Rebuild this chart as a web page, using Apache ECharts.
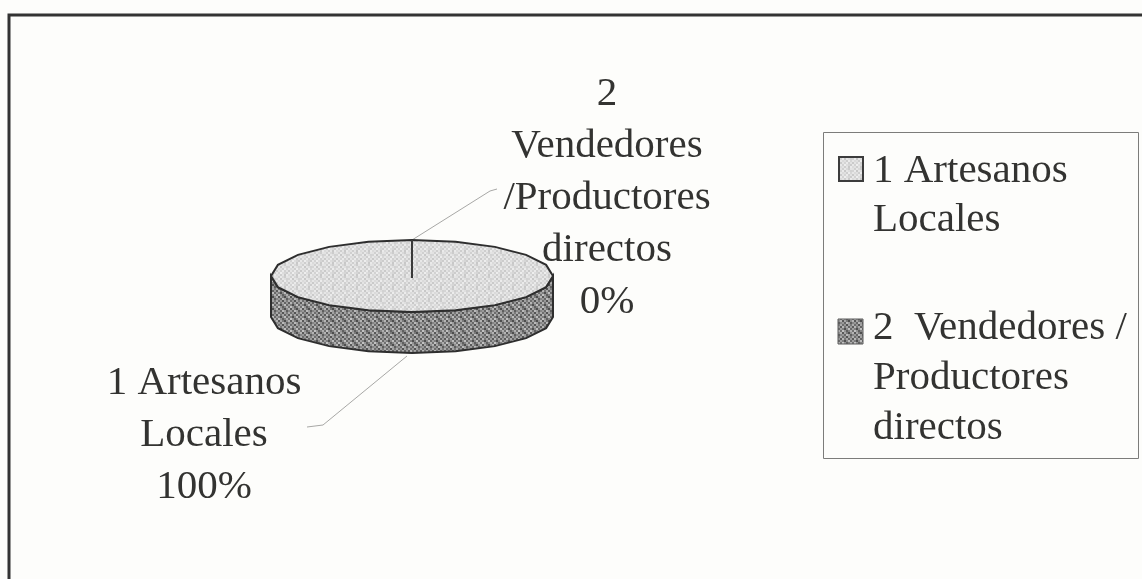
<!DOCTYPE html>
<html>
<head>
<meta charset="utf-8">
<style>
  html, body { margin: 0; padding: 0; background: #fdfdfb; }
  #chart { width: 1142px; height: 579px; filter: blur(0.6px); }
</style>
<script src="https://cdn.jsdelivr.net/npm/echarts@6/dist/echarts.min.js"></script>
</head>
<body>
<div id="chart"></div>
<script>
const categories = ["1 Artesanos Locales", "2 Vendedores /Productores directos"]
const values = [100, 0]
const legendLabels = [["1 Artesanos", "Locales"], ["2  Vendedores /", "Productores", "directos"]]
const sliceLabels = [["1 Artesanos", "Locales", "100%"], ["2", "Vendedores", "/Productores", "directos", "0%"]]

const FONT = '"Liberation Serif", serif'
const TEXT = "#333331"
const cx = 412, cy = 276, rx = 141, ry = 36, depth = 41

const lightTile = [
  [226, 208, 232, 216, 204, 228],
  [212, 234, 200, 230, 222, 210],
  [230, 218, 224, 206, 236, 214],
  [202, 228, 212, 234, 208, 226],
  [232, 210, 238, 220, 214, 204],
  [218, 226, 206, 228, 200, 234],
]
const darkTile = [
  [172, 110, 150, 84, 162, 122],
  [92, 182, 118, 168, 100, 154],
  [158, 126, 80, 138, 190, 106],
  [114, 194, 146, 96, 130, 174],
  [180, 88, 166, 120, 78, 142],
  [134, 152, 104, 186, 156, 94],
]

// textura punteada de la impresion escaneada
function patternFill(tile) {
  const size = tile.length * 2
  const canvas = document.createElement("canvas")
  canvas.width = canvas.height = size
  const ctx = canvas.getContext("2d")
  tile.forEach((row, y) => row.forEach((g, x) => {
    ctx.fillStyle = `rgb(${g},${g},${g})`
    ctx.fillRect(x * 2, y * 2, 2, 2)
  }))
  return { image: canvas, repeat: "repeat" }
}
const lightFill = patternFill(lightTile)
const darkFill = patternFill(darkTile)

const total = values.reduce((a, b) => a + b, 0)

// punto sobre la elipse, angulo en fraccion de vuelta desde las 12 en sentido horario
function onEllipse(frac, dy = 0) {
  const a = frac * Math.PI * 2
  return [cx + rx * Math.sin(a), cy - ry * Math.cos(a) + dy]
}

function ellipsePoints(n, dy) {
  const pts = []
  for (let i = 0; i < n; i++) pts.push(onEllipse(i / n, dy))
  return pts
}

function sidePoints(n) {
  const pts = []
  for (let i = 0; i <= n; i++) pts.push(onEllipse(0.25 + 0.5 * i / n, 0))
  for (let i = n; i >= 0; i--) pts.push(onEllipse(0.25 + 0.5 * i / n, depth))
  return pts
}

function renderPie(params, api) {
  if (params.dataIndex !== 0) return { type: "group", children: [] }
  const children = [
    { type: "polygon", shape: { points: sidePoints(10) }, style: { fill: darkFill, stroke: "#2e2e2e", lineWidth: 2 } },
    { type: "polygon", shape: { points: ellipsePoints(20, 0) }, style: { fill: lightFill, stroke: "#2e2e2e", lineWidth: 2 } },
  ]
  // una linea por cada limite entre porciones
  let acc = 0
  values.forEach(v => {
    const end = onEllipse(acc / total)
    children.push({ type: "line", shape: { x1: cx, y1: cy + 2, x2: end[0], y2: end[1] }, style: { stroke: "#3a3a3a", lineWidth: 2 } })
    acc += v
  })
  return { type: "group", children }
}

function textBlock(lines, x, y, pitch, align) {
  return lines.map((t, i) => ({
    type: "text",
    x, y: y + i * pitch,
    style: { text: t, fill: TEXT, font: "41px " + FONT, align, verticalAlign: "middle" },
  }))
}

const option = {
  animation: false,
  backgroundColor: "#fdfdfb",
  series: [{
    type: "custom",
    coordinateSystem: "none",
    silent: true,
    data: values.map((v, i) => ({ name: categories[i], value: v })),
    renderItem: renderPie,
  }],
  graphic: [
    { type: "rect", shape: { x: 9, y: 15, width: 1160, height: 600 }, style: { fill: "none", stroke: "#333", lineWidth: 3 } },
    // lineas guia
    { type: "polyline", shape: { points: [[412, 240], [490, 191], [497, 189]] }, style: { fill: "none", stroke: "#a8a8a6", lineWidth: 1 } },
    { type: "polyline", shape: { points: [[407, 356], [323, 425], [307, 427]] }, style: { fill: "none", stroke: "#a8a8a6", lineWidth: 1 } },
    ...textBlock(sliceLabels[1], 607, 94, 52, "center"),
    ...textBlock(sliceLabels[0], 204, 383, 52, "center"),
    // leyenda
    { type: "rect", shape: { x: 823.5, y: 132.5, width: 315, height: 326 }, style: { fill: "none", stroke: "#7c7c7a", lineWidth: 1 } },
    { type: "rect", shape: { x: 839, y: 157, width: 24, height: 24 }, style: { fill: lightFill, stroke: "#3c3c3c", lineWidth: 2 } },
    { type: "rect", shape: { x: 838, y: 319, width: 25, height: 25 }, style: { fill: darkFill, stroke: "#5a5a5a", lineWidth: 1 } },
    ...textBlock(legendLabels[0], 873, 171, 49, "left"),
    ...textBlock(legendLabels[1], 873, 328, 50, "left"),
  ],
}

const chart = echarts.init(document.getElementById("chart"))
chart.setOption(option)
</script>
</body>
</html>
